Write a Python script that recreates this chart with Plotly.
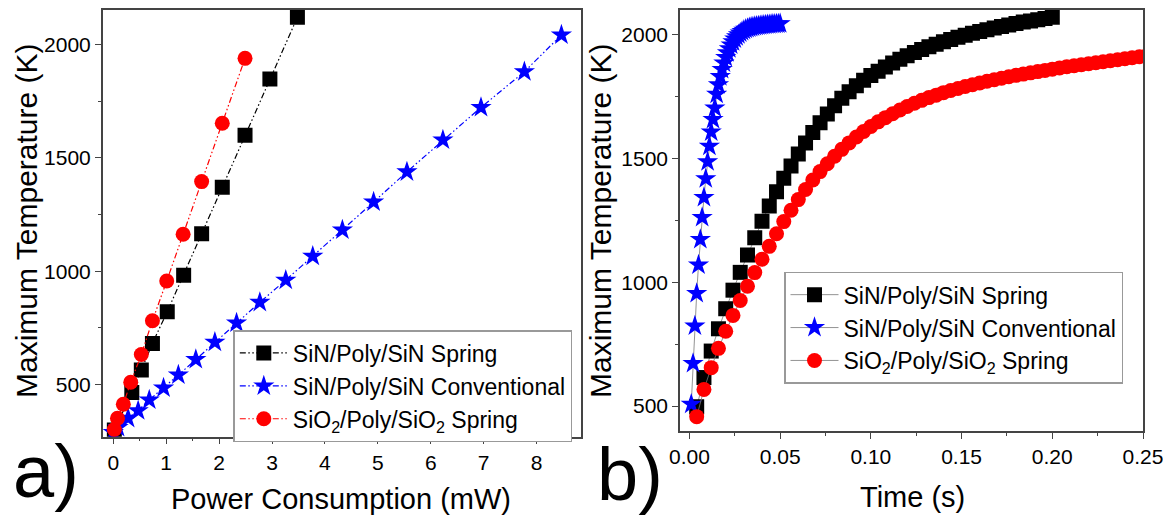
import plotly.graph_objects as go

# ---------------- Panel a) data ----------------
a_sin_spring_x = [0.02, 0.35, 0.53, 0.74, 1.02, 1.33, 1.67, 2.06, 2.49, 2.96, 3.48]
a_sin_spring_y = [300, 466, 565, 682, 822, 982, 1165, 1370, 1599, 1847, 2119]

a_sin_conv_x = [0.0, 0.09, 0.28, 0.47, 0.68, 0.95, 1.23, 1.56, 1.92, 2.33, 2.77, 3.26,
                3.77, 4.33, 4.92, 5.55, 6.23, 6.95, 7.77, 8.47]
a_sin_conv_y = [290, 312, 352, 386, 433, 486, 543, 611, 687, 772, 863, 961,
                1066, 1182, 1305, 1438, 1578, 1722, 1879, 2041]

a_sio2_spring_x = [0.02, 0.08, 0.19, 0.33, 0.53, 0.74, 1.01, 1.32, 1.67, 2.06, 2.49]
a_sio2_spring_y = [303, 352, 414, 511, 633, 782, 957, 1163, 1395, 1652, 1938]

# ---------------- Panel b) data ----------------
b_sin_spring_t = [0.004, 0.008, 0.012, 0.016, 0.020, 0.024, 0.028, 0.032, 0.036, 0.040,
                  0.044, 0.048, 0.052, 0.056, 0.060, 0.064, 0.068, 0.072, 0.076, 0.080,
                  0.084, 0.088, 0.092, 0.096, 0.100, 0.104, 0.108, 0.112, 0.116, 0.120,
                  0.124, 0.128, 0.132, 0.136, 0.140, 0.144, 0.148, 0.152, 0.156, 0.160,
                  0.164, 0.168, 0.172, 0.176, 0.180, 0.184, 0.188, 0.192, 0.196, 0.200]
b_sin_spring_T = [497, 615, 722, 812, 893, 968, 1040, 1110, 1180, 1246,
                  1308, 1366, 1420, 1470, 1518, 1563, 1605, 1644, 1680, 1713,
                  1743, 1770, 1794, 1816, 1835, 1853, 1870, 1886, 1901, 1915,
                  1928, 1940, 1951, 1962, 1972, 1981, 1990, 1998, 2006, 2013,
                  2020, 2027, 2033, 2039, 2045, 2051, 2056, 2061, 2066, 2071]

b_sin_conv_t = [0.001, 0.002, 0.003, 0.004, 0.005, 0.006, 0.007, 0.008, 0.009, 0.010,
                0.011, 0.012, 0.013, 0.014, 0.015, 0.016, 0.017, 0.018, 0.019, 0.020,
                0.021, 0.022, 0.023, 0.024, 0.025, 0.026, 0.027, 0.028, 0.029, 0.030,
                0.031, 0.032, 0.033, 0.034, 0.035, 0.036, 0.037, 0.038, 0.039, 0.040,
                0.041, 0.042, 0.043, 0.044, 0.045, 0.046, 0.047, 0.048, 0.049, 0.050]
b_sin_conv_T = [507, 672, 823, 955, 1070, 1173, 1262, 1343, 1418, 1487,
                1550, 1607, 1658, 1704, 1760, 1798, 1831, 1860, 1886, 1908,
                1927, 1944, 1959, 1972, 1983, 1992, 2000, 2007, 2013, 2018,
                2022, 2025, 2028, 2030, 2032, 2034, 2035, 2036, 2037, 2038,
                2039, 2040, 2041, 2041, 2042, 2043, 2043, 2044, 2044, 2045]

b_sio2_spring_t = [0.004, 0.008, 0.012, 0.016, 0.020, 0.024, 0.028, 0.032, 0.036, 0.040,
                   0.044, 0.048, 0.052, 0.056, 0.060, 0.064, 0.068, 0.072, 0.076, 0.080,
                   0.084, 0.088, 0.092, 0.096, 0.100, 0.104, 0.108, 0.112, 0.116, 0.120,
                   0.124, 0.128, 0.132, 0.136, 0.140, 0.144, 0.148, 0.152, 0.156, 0.160,
                   0.164, 0.168, 0.172, 0.176, 0.180, 0.184, 0.188, 0.192, 0.196, 0.200,
                   0.204, 0.208, 0.212, 0.216, 0.220, 0.224, 0.228, 0.232, 0.236, 0.240,
                   0.244, 0.248, 0.252]
b_sio2_spring_T = [457, 567, 655, 733, 802, 866, 926, 984, 1039, 1093,
                   1145, 1196, 1245, 1291, 1334, 1375, 1413, 1447, 1479, 1509,
                   1537, 1563, 1587, 1609, 1629, 1648, 1665, 1681, 1696, 1710,
                   1723, 1735, 1746, 1756, 1766, 1775, 1783, 1791, 1798, 1805,
                   1812, 1818, 1824, 1830, 1836, 1841, 1846, 1851, 1856, 1861,
                   1866, 1871, 1875, 1879, 1883, 1887, 1891, 1895, 1899, 1903,
                   1907, 1911, 1915]

names = ["SiN/Poly/SiN Spring", "SiN/Poly/SiN Conventional",
         "SiO<sub>2</sub>/Poly/SiO<sub>2</sub> Spring"]

FONT = "Liberation Sans"
# the page body has an 8px margin: the figure is shifted, so work in screen pixels
OFF = 8
W, H = 1171 - OFF, 517 - OFF


def px(sx):
    return (sx - OFF) / W


def py(sy):
    return 1 - (sy - OFF) / H


DDD = "6px,2.5px,1.5px,2.5px,1.5px,2.5px"

fig = go.Figure()

# Panel a
fig.add_trace(go.Scatter(x=a_sin_spring_x, y=a_sin_spring_y, mode="lines+markers",
                         name=names[0], legend="legend",
                         line=dict(color="black", width=1.2, dash=DDD),
                         marker=dict(symbol="square", size=15, color="black", line=dict(width=0)),
                         xaxis="x", yaxis="y"))
fig.add_trace(go.Scatter(x=a_sin_conv_x, y=a_sin_conv_y, mode="lines+markers",
                         name=names[1], legend="legend",
                         line=dict(color="#0000ff", width=1.2, dash=DDD),
                         marker=dict(symbol="star", size=16, color="#0000ff", line=dict(width=0)),
                         xaxis="x", yaxis="y"))
fig.add_trace(go.Scatter(x=a_sio2_spring_x, y=a_sio2_spring_y, mode="lines+markers",
                         name=names[2], legend="legend",
                         line=dict(color="#ff0000", width=1.2, dash=DDD),
                         marker=dict(symbol="circle", size=15, color="#ff0000", line=dict(width=0)),
                         xaxis="x", yaxis="y"))

# Panel b
fig.add_trace(go.Scatter(x=b_sin_spring_t, y=b_sin_spring_T, mode="lines+markers",
                         name=names[0], legend="legend2",
                         line=dict(color="#777777", width=0.8),
                         marker=dict(symbol="square", size=15, color="black", line=dict(width=0)),
                         xaxis="x2", yaxis="y2"))
fig.add_trace(go.Scatter(x=b_sin_conv_t, y=b_sin_conv_T, mode="lines+markers",
                         name=names[1], legend="legend2",
                         line=dict(color="#777777", width=0.8),
                         marker=dict(symbol="star", size=16, color="#0000ff", line=dict(width=0)),
                         xaxis="x2", yaxis="y2"))
fig.add_trace(go.Scatter(x=b_sio2_spring_t, y=b_sio2_spring_T, mode="lines+markers",
                         name=names[2], legend="legend2",
                         line=dict(color="#777777", width=0.8),
                         marker=dict(symbol="circle", size=15, color="#ff0000", line=dict(width=0)),
                         xaxis="x2", yaxis="y2"))

axis_common = dict(showline=True, linecolor="#444444", linewidth=1.5, mirror=True,
                   ticks="outside", ticklen=6, tickwidth=1.3, tickcolor="#444444",
                   showgrid=False, zeroline=False, automargin=False,
                   tickfont=dict(family=FONT, size=21, color="black"))

fig.update_layout(
    width=W, height=H, paper_bgcolor="white", plot_bgcolor="white",
    margin=dict(l=0, r=0, t=0, b=0, autoexpand=False),
    font=dict(family=FONT, color="black"),
    xaxis=dict(domain=[px(102.7), px(581)], range=[-0.2, 8.84], tickvals=[0, 1, 2, 3, 4, 5, 6, 7, 8],
               minor=dict(dtick=0.5, tick0=0, ticks="outside", ticklen=3, tickcolor="#444444"),
               anchor="y", **axis_common),
    yaxis=dict(domain=[py(436.7), py(10)], range=[271, 2151], tickvals=[500, 1000, 1500, 2000],
               minor=dict(dtick=250, tick0=0, ticks="outside", ticklen=3, tickcolor="#444444"),
               anchor="x", **axis_common),
    xaxis2=dict(domain=[px(680), px(1143)], range=[-0.0052, 0.25],
                tickvals=[0, 0.05, 0.1, 0.15, 0.2, 0.25],
                ticktext=["0.00", "0.05", "0.10", "0.15", "0.20", "0.25"],
                minor=dict(dtick=0.025, tick0=0, ticks="outside", ticklen=3, tickcolor="#444444"),
                anchor="y2", **axis_common),
    yaxis2=dict(domain=[py(431), py(9.5)], range=[399, 2102], tickvals=[500, 1000, 1500, 2000],
                minor=dict(dtick=250, tick0=0, ticks="outside", ticklen=3, tickcolor="#444444"),
                anchor="x2", **axis_common),
    legend=dict(x=px(233.3), y=py(330), xanchor="left", yanchor="top",
                bgcolor="white", bordercolor="#999999", borderwidth=1.5,
                font=dict(family=FONT, size=23, color="black"), itemwidth=48,
                tracegroupgap=0),
    legend2=dict(x=px(784), y=py(271.7), xanchor="left", yanchor="top",
                 bgcolor="white", bordercolor="#999999", borderwidth=1.5,
                 font=dict(family=FONT, size=23, color="black"), itemwidth=48,
                 tracegroupgap=0),
    showlegend=True,
)

annotations = [
    dict(text="Maximum Temperature (K)", x=px(26), y=py(221), textangle=-90,
         font=dict(size=30)),
    dict(text="Maximum Temperature (K)", x=px(600), y=py(221), textangle=-90,
         font=dict(size=30)),
    dict(text="Power Consumption (mW)", x=px(341), y=py(499), font=dict(size=29)),
    dict(text="Time (s)", x=px(912), y=py(497), font=dict(size=29)),
    dict(text="a)", x=px(46), y=py(471), font=dict(size=74)),
    dict(text="b)", x=px(630), y=py(474), font=dict(size=74)),
]
for a in annotations:
    a.update(xref="paper", yref="paper", showarrow=False, xanchor="center", yanchor="middle")
    a["font"].update(family=FONT, color="black")
fig.update_layout(annotations=annotations)

fig.write_html("out.html")
